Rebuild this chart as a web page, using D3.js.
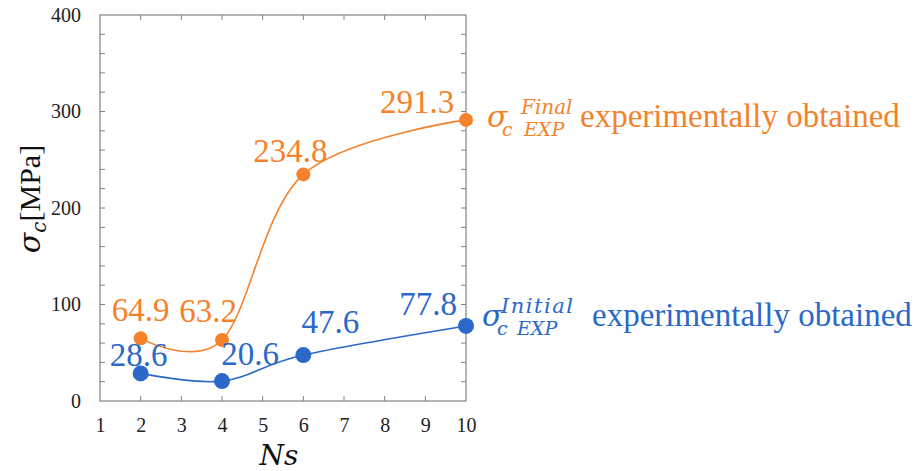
<!DOCTYPE html>
<html>
<head>
<meta charset="utf-8">
<script src="https://cdn.jsdelivr.net/npm/d3@7"></script>
<style>
  html, body { margin: 0; padding: 0; background: #fff; }
  svg { display: block; }
</style>
</head>
<body>
<svg id="chart" width="919" height="471"></svg>
<script>
// Number of stirrups (Ns) tested
const ns = [2, 4, 6, 10];
// Compressive stress sigma_c [MPa]
const finalStress = [64.9, 63.2, 234.8, 291.3];
const initialStress = [28.6, 20.6, 47.6, 77.8];
// Axis ticks
const xTicks = [1, 2, 3, 4, 5, 6, 7, 8, 9, 10];
const yTicks = [0, 100, 200, 300, 400];
const yMinorTicks = d3.range(0, 401, 20);

const ORANGE = "#F5822A";
const BLUE = "#2B68C7";
const SERIF = "Liberation Serif";
const MATH = "DejaVu Serif";

const svg = d3.select("#chart");
const plot = { left: 100, right: 466, top: 15, bottom: 401 };

const x = d3.scaleLinear().domain([1, 10]).range([plot.left, plot.right]);
const y = d3.scaleLinear().domain([0, 400]).range([plot.bottom, plot.top]);

// Frame
svg.append("rect")
  .attr("x", plot.left).attr("y", plot.top)
  .attr("width", plot.right - plot.left).attr("height", plot.bottom - plot.top)
  .attr("fill", "none").attr("stroke", "#808080").attr("stroke-width", 1.2);

// Inward ticks on all four sides
const tickLen = 5;
const tickG = svg.append("g").attr("stroke", "#808080").attr("stroke-width", 1);
xTicks.slice(1, -1).forEach(v => {
  tickG.append("line").attr("x1", x(v)).attr("x2", x(v)).attr("y1", plot.bottom).attr("y2", plot.bottom - tickLen);
  tickG.append("line").attr("x1", x(v)).attr("x2", x(v)).attr("y1", plot.top).attr("y2", plot.top + tickLen);
});
yMinorTicks.slice(1, -1).forEach(v => {
  tickG.append("line").attr("x1", plot.left).attr("x2", plot.left + tickLen).attr("y1", y(v)).attr("y2", y(v));
  tickG.append("line").attr("x1", plot.right).attr("x2", plot.right - tickLen).attr("y1", y(v)).attr("y2", y(v));
});

// Tick labels via d3 axes (tick lines hidden; the frame carries them)
const xAxis = d3.axisBottom(x).tickValues(xTicks).tickSize(0).tickPadding(17).tickFormat(d3.format("d"));
const yAxis = d3.axisLeft(y).tickValues(yTicks).tickSize(0).tickPadding(19).tickFormat(d3.format("d"));
const gx = svg.append("g").attr("transform", `translate(0,${plot.bottom})`).call(xAxis);
const gy = svg.append("g").attr("transform", `translate(${plot.left},0)`).call(yAxis);
[gx, gy].forEach(g => {
  g.attr("font-family", SERIF).attr("font-size", 20);
  g.select(".domain").remove();
  g.selectAll("text").attr("fill", "#222");
});

// Axis titles
svg.append("text")
  .attr("x", 279).attr("y", 465)
  .attr("text-anchor", "middle")
  .attr("font-family", MATH).attr("font-style", "italic")
  .attr("font-size", 28)
  .attr("fill", "#111")
  .text("Ns");

const yTitle = svg.append("text")
  .attr("transform", "translate(40,199) rotate(-90)")
  .attr("text-anchor", "middle")
  .attr("fill", "#111")
  .attr("font-family", SERIF)
  .attr("font-size", 30);
yTitle.append("tspan").attr("font-family", MATH).attr("font-style", "italic").text("σ");
yTitle.append("tspan").attr("font-family", MATH).attr("font-style", "italic")
  .attr("font-size", 20).attr("dy", 6).text("c");
yTitle.append("tspan").attr("dy", -6).text("[MPa]");

// Smooth connecting lines
const line = d3.line()
  .x(d => x(d[0]))
  .y(d => y(d[1]))
  .curve(d3.curveCardinal.tension(0));

const series = [
  { values: finalStress, color: ORANGE, r: 7 },
  { values: initialStress, color: BLUE, r: 8 }
];

series.forEach(s => {
  const pts = ns.map((n, i) => [n, s.values[i]]);
  svg.append("path")
    .datum(pts)
    .attr("d", line)
    .attr("fill", "none")
    .attr("stroke", s.color)
    .attr("stroke-width", 1.6);
  svg.selectAll(null)
    .data(pts)
    .enter()
    .append("circle")
    .attr("cx", d => x(d[0]))
    .attr("cy", d => y(d[1]))
    .attr("r", s.r)
    .attr("fill", s.color);
});

// Value labels: offset of the label centre from its point, and of the baseline
const finalLabelPlacement = [
  { dx: 0, dy: -17 },
  { dx: -14, dy: -18 },
  { dx: -13, dy: -12 },
  { dx: -49, dy: -7 }
];
const initialLabelPlacement = [
  { dx: -2, dy: -7 },
  { dx: 28, dy: -16 },
  { dx: 27, dy: -22 },
  { dx: -38, dy: -11 }
];

function drawLabels(values, placement, color) {
  svg.selectAll(null)
    .data(values)
    .enter()
    .append("text")
    .attr("x", (d, i) => x(ns[i]) + placement[i].dx)
    .attr("y", (d, i) => y(d) + placement[i].dy)
    .attr("text-anchor", "middle")
    .attr("fill", color)
    .attr("font-family", SERIF)
    .attr("font-size", 33)
    .text(d => d3.format(".1f")(d));
}
drawLabels(finalStress, finalLabelPlacement, ORANGE);
drawLabels(initialStress, initialLabelPlacement, BLUE);

// Series names beside the last points
function seriesName(cfg) {
  const t = svg.append("text").attr("fill", cfg.color)
    .attr("font-family", SERIF).attr("font-size", 33);
  const m = sel => sel.attr("font-family", MATH).attr("font-style", "italic");
  t.append("tspan").call(m).attr("x", cfg.x).attr("y", cfg.base).attr("font-size", 30).text("σ");
  t.append("tspan").call(m).attr("x", cfg.x + 15).attr("y", cfg.base + 9).attr("font-size", 19).text("c");
  t.append("tspan").call(m).attr("x", cfg.subX).attr("y", cfg.base + 9).attr("font-size", 19).text("EXP");
  t.append("tspan").call(m).attr("x", cfg.supX).attr("y", cfg.base - 13)
    .attr("font-size", cfg.supSize).attr("letter-spacing", cfg.supSpacing).text(cfg.sup);
  t.append("tspan").attr("x", cfg.textX).attr("y", cfg.base).text("experimentally obtained");
}
seriesName({ color: ORANGE, x: 487, base: 127, subX: 524, supX: 521, sup: "Final", supSize: 20, supSpacing: 0, textX: 580 });
seriesName({ color: BLUE, x: 482, base: 326, subX: 517, supX: 501, sup: "Initial", supSize: 21, supSpacing: 1.5, textX: 592 });
</script>
</body>
</html>
